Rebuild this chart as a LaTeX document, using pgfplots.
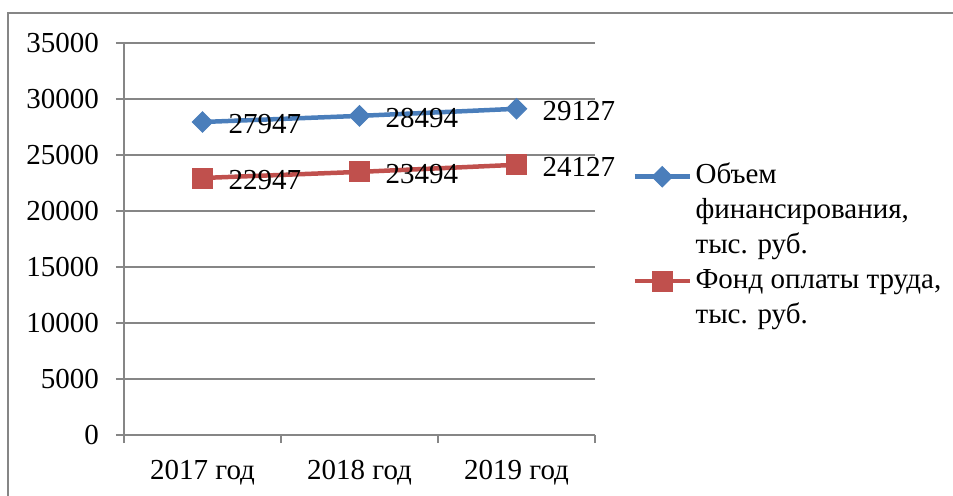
\documentclass[border=0pt]{standalone}
\usepackage{fontspec}
\setmainfont{Liberation Serif}
\usepackage{pgfplots}
\pgfplotsset{compat=1.18}
\definecolor{serblue}{RGB}{74,126,187}
\definecolor{serred}{RGB}{192,80,77}
\definecolor{gridgray}{RGB}{134,134,134}
\newcommand{\chartfont}{\fontsize{14.5pt}{17.5pt}\selectfont}
\pgfplotsset{
  limgA/.style={legend image code/.code={\draw[mark repeat=2,mark phase=2,##1] plot coordinates {(0pt,38.6pt) (13.75pt,38.6pt) (27.5pt,38.6pt)};}},
  limgB/.style={legend image code/.code={\draw[mark repeat=2,mark phase=2,##1] plot coordinates {(0pt,21.1pt) (13.75pt,21.1pt) (27.5pt,21.1pt)};}},
}
\begin{document}
\chartfont
\begin{tikzpicture}
\useasboundingbox (0,0) rectangle (476.5pt,247.5pt);
\draw[gridgray, line width=0.9pt] (4pt,-5pt) -- (4pt,241pt) -- (480pt,241pt);
\begin{axis}[
  at={(62pt,30pt)}, anchor=south west,
  scale only axis, width=235.5pt, height=196pt,
  xmin=-0.5, xmax=2.5, ymin=0, ymax=35000,
  xtick={0,1,2}, xticklabels={2017 год, 2018 год, 2019 год},
  major x tick style={draw=none},
  minor xtick={-0.5,0.5,1.5,2.5},
  ytick={0,5000,10000,15000,20000,25000,30000,35000},
  yticklabels={0,5000,10000,15000,20000,25000,30000,35000},
  tick align=outside,
  major tick length=4pt, minor tick length=4pt,
  ymajorgrids, grid style={gridgray, line width=0.8pt},
  axis x line*=bottom, axis y line*=left,
  axis line style={gridgray, line width=0.8pt},
  every tick/.style={gridgray, line width=0.8pt},
  scaled y ticks=false,
  tick label style={font=\chartfont, text=black},
  yticklabel style={xshift=-3.5pt},
  xticklabel style={yshift=-3.5pt},
  legend style={at={(axis description cs:1.066,0.715)}, anchor=north west, draw=none, fill=none,
    font=\chartfont, cells={anchor=base west, align=left}, row sep=1.5pt,
    nodes={inner xsep=1.8pt}},
  nodes near coords,
  point meta=explicit symbolic,
  every node near coord/.append style={anchor=west, xshift=8pt, yshift=-1pt, text=black, font=\chartfont},
  clip=false,
]
\addplot[serblue, line width=2.25pt, mark=square*, mark size=3.6pt, mark options={rotate=45, solid, fill=serblue, line width=0.5pt}, limgA]
  coordinates {(0,27947)[27947] (1,28494)[28494] (2,29127)[29127]};
\addlegendentry{Объем\\финансирования,\\тыс. руб.}
\addplot[serred, line width=2.25pt, mark=square*, mark size=5pt, mark options={solid, fill=serred, line width=0.5pt}, limgB]
  coordinates {(0,22947)[22947] (1,23494)[23494] (2,24127)[24127]};
\addlegendentry{Фонд оплаты труда,\\тыс. руб.}
\end{axis}
\end{tikzpicture}
\end{document}
